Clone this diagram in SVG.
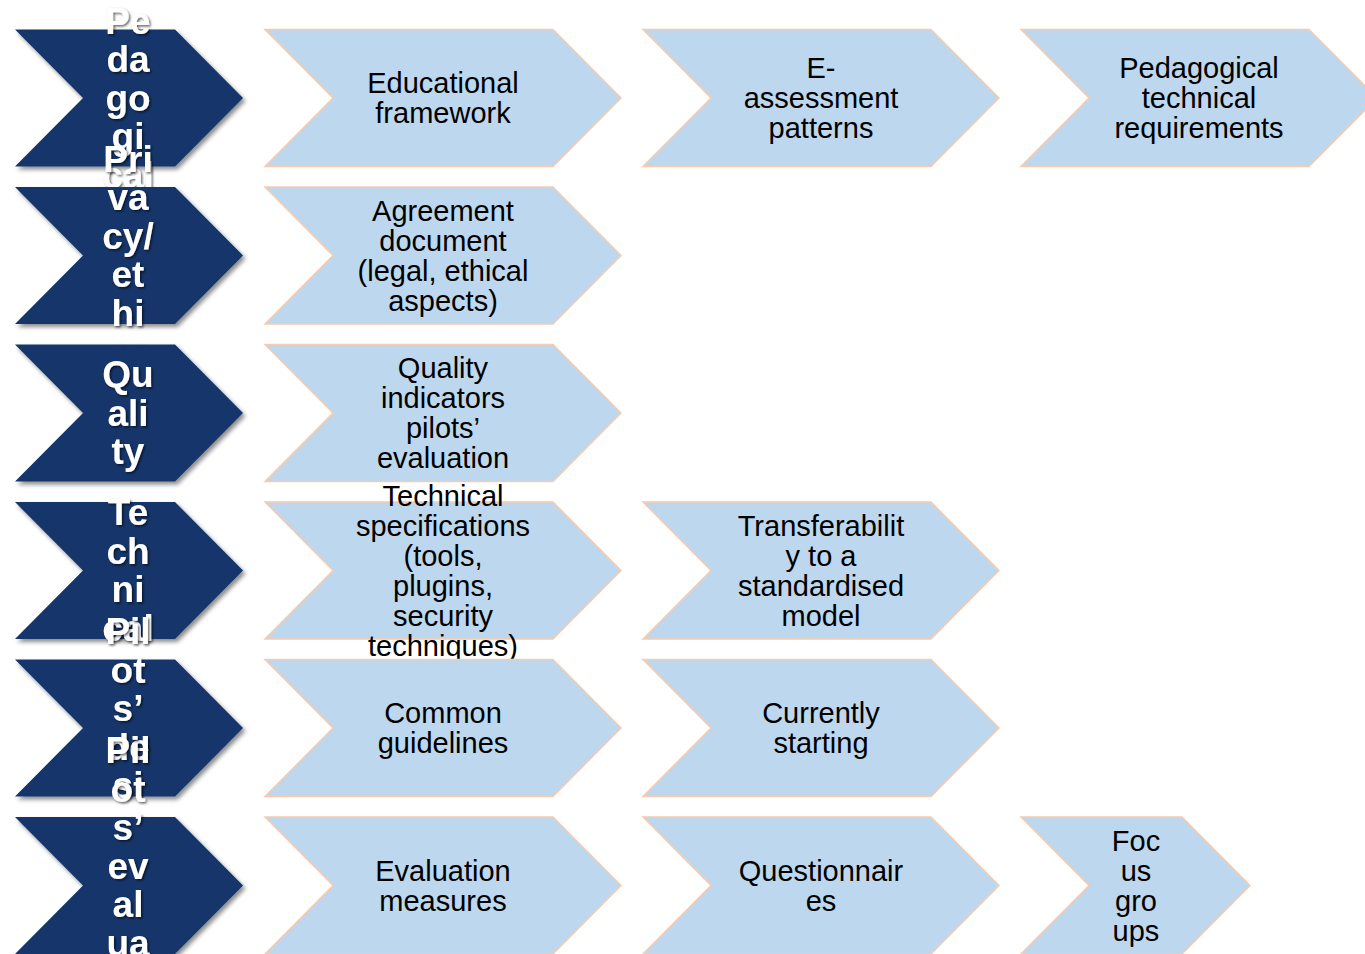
<svg xmlns="http://www.w3.org/2000/svg" xmlns:xlink="http://www.w3.org/1999/xlink" width="1365" height="954" viewBox="0 0 1365 954">
<defs>
  <filter id="shapeShadow" x="-10%" y="-10%" width="130%" height="130%">
    <feDropShadow dx="2.5" dy="3" stdDeviation="2" flood-color="#000" flood-opacity="0.45"/>
  </filter>
  <filter id="textShadow" x="-20%" y="-20%" width="150%" height="150%">
    <feDropShadow dx="1.5" dy="1.5" stdDeviation="1" flood-color="#000" flood-opacity="0.6"/>
  </filter>
  <path id="dark" d="M0,0 H160 L228,68.5 L160,137 H0 L68,68.5 Z"/>
  <path id="light" d="M0,0 H288 L356,68.5 L288,137 H0 L68,68.5 Z"/>
  <path id="small" d="M0,0 H161 L229,68.5 L161,137 H0 L68,68.5 Z"/>
</defs>
<style>
  .dk { fill: #12366b; filter: url(#shapeShadow); }
  .lt { fill: #bdd7ee; stroke: #f8cbad; stroke-width: 1.5; }
  .dt { font-family: "Liberation Sans", Arial, sans-serif; font-weight: bold; font-size: 37px; fill: #ffffff; text-anchor: middle; filter: url(#textShadow); }
  .ltx { font-family: "Liberation Sans", Arial, sans-serif; font-size: 29px; fill: #000000; text-anchor: middle; }
</style>
<rect width="1365" height="954" fill="#ffffff"/>

<!-- Row 1 -->
<g id="pedagogical">
  <use href="#dark" x="15" y="29.5" class="dk"/>
  <text class="dt"><tspan x="128" y="33.5">Pe</tspan><tspan x="128" y="72">da</tspan><tspan x="128" y="110.5">go</tspan><tspan x="128" y="149">gi</tspan><tspan x="128" y="187.5">cal</tspan></text>
</g>
<g id="educational-framework">
  <use href="#light" x="265" y="29.5" class="lt"/>
  <text class="ltx"><tspan x="443" y="93">Educational</tspan><tspan x="443" y="123">framework</tspan></text>
</g>
<g id="e-assessment-patterns">
  <use href="#light" x="643" y="29.5" class="lt"/>
  <text class="ltx"><tspan x="821" y="78">E-</tspan><tspan x="821" y="108">assessment</tspan><tspan x="821" y="138">patterns</tspan></text>
</g>
<g id="pedagogical-technical-requirements">
  <use href="#light" x="1021" y="29.5" class="lt"/>
  <text class="ltx"><tspan x="1199" y="78">Pedagogical</tspan><tspan x="1199" y="108">technical</tspan><tspan x="1199" y="138">requirements</tspan></text>
</g>

<!-- Row 2 -->
<g id="privacy-ethics">
  <use href="#dark" x="15" y="187" class="dk"/>
  <text class="dt"><tspan x="128" y="171.75">Pri</tspan><tspan x="128" y="210.25">va</tspan><tspan x="128" y="248.75">cy/</tspan><tspan x="128" y="287.25">et</tspan><tspan x="128" y="325.75">hi</tspan><tspan x="128" y="364.25">cs</tspan></text>
</g>
<g id="agreement-document">
  <use href="#light" x="265" y="187" class="lt"/>
  <text class="ltx"><tspan x="443" y="220.5">Agreement</tspan><tspan x="443" y="250.5">document</tspan><tspan x="443" y="280.5">(legal, ethical</tspan><tspan x="443" y="310.5">aspects)</tspan></text>
</g>

<!-- Row 3 -->
<g id="quality">
  <use href="#dark" x="15" y="344.5" class="dk"/>
  <text class="dt"><tspan x="128" y="387">Qu</tspan><tspan x="128" y="425.5">ali</tspan><tspan x="128" y="464">ty</tspan></text>
</g>
<g id="quality-indicators">
  <use href="#light" x="265" y="344.5" class="lt"/>
  <text class="ltx"><tspan x="443" y="378">Quality</tspan><tspan x="443" y="408">indicators</tspan><tspan x="443" y="438">pilots’</tspan><tspan x="443" y="468">evaluation</tspan></text>
</g>

<!-- Row 4 -->
<g id="technical">
  <use href="#dark" x="15" y="502" class="dk"/>
  <text class="dt"><tspan x="128" y="525.25">Te</tspan><tspan x="128" y="563.75">ch</tspan><tspan x="128" y="602.25">ni</tspan><tspan x="128" y="640.75">cal</tspan></text>
</g>
<g id="technical-specifications">
  <use href="#light" x="265" y="502" class="lt"/>
  <text class="ltx"><tspan x="443" y="505.5">Technical</tspan><tspan x="443" y="535.5">specifications</tspan><tspan x="443" y="565.5">(tools,</tspan><tspan x="443" y="595.5">plugins,</tspan><tspan x="443" y="625.5">security</tspan><tspan x="443" y="655.5">techniques)</tspan></text>
</g>
<g id="transferability">
  <use href="#light" x="643" y="502" class="lt"/>
  <text class="ltx"><tspan x="821" y="535.5">Transferabilit</tspan><tspan x="821" y="565.5">y to a</tspan><tspan x="821" y="595.5">standardised</tspan><tspan x="821" y="625.5">model</tspan></text>
</g>

<!-- Row 5 -->
<g id="pilots-design">
  <use href="#dark" x="15" y="659.5" class="dk"/>
  <text class="dt"><tspan x="128" y="644.25">Pil</tspan><tspan x="128" y="682.75">ot</tspan><tspan x="128" y="721.25">s’</tspan><tspan x="128" y="759.75">de</tspan><tspan x="128" y="798.25">si</tspan><tspan x="128" y="836.75">gn</tspan></text>
</g>
<g id="common-guidelines">
  <use href="#light" x="265" y="659.5" class="lt"/>
  <text class="ltx"><tspan x="443" y="723">Common</tspan><tspan x="443" y="753">guidelines</tspan></text>
</g>
<g id="currently-starting">
  <use href="#light" x="643" y="659.5" class="lt"/>
  <text class="ltx"><tspan x="821" y="723">Currently</tspan><tspan x="821" y="753">starting</tspan></text>
</g>

<!-- Row 6 -->
<g id="pilots-evaluation">
  <use href="#dark" x="15" y="817" class="dk"/>
  <text class="dt"><tspan x="128" y="763.25">Pil</tspan><tspan x="128" y="801.75">ot</tspan><tspan x="128" y="840.25">s’</tspan><tspan x="128" y="878.75">ev</tspan><tspan x="128" y="917.25">al</tspan><tspan x="128" y="955.75">ua</tspan><tspan x="128" y="994.25">ti</tspan><tspan x="128" y="1032.75">on</tspan></text>
</g>
<g id="evaluation-measures">
  <use href="#light" x="265" y="817" class="lt"/>
  <text class="ltx"><tspan x="443" y="880.5">Evaluation</tspan><tspan x="443" y="910.5">measures</tspan></text>
</g>
<g id="questionnaires">
  <use href="#light" x="643" y="817" class="lt"/>
  <text class="ltx"><tspan x="821" y="880.5">Questionnair</tspan><tspan x="821" y="910.5">es</tspan></text>
</g>
<g id="focus-groups">
  <use href="#small" x="1021" y="817" class="lt"/>
  <text class="ltx"><tspan x="1136" y="850.5">Foc</tspan><tspan x="1136" y="880.5">us</tspan><tspan x="1136" y="910.5">gro</tspan><tspan x="1136" y="940.5">ups</tspan></text>
</g>

<g id="connectors"></g>
</svg>
